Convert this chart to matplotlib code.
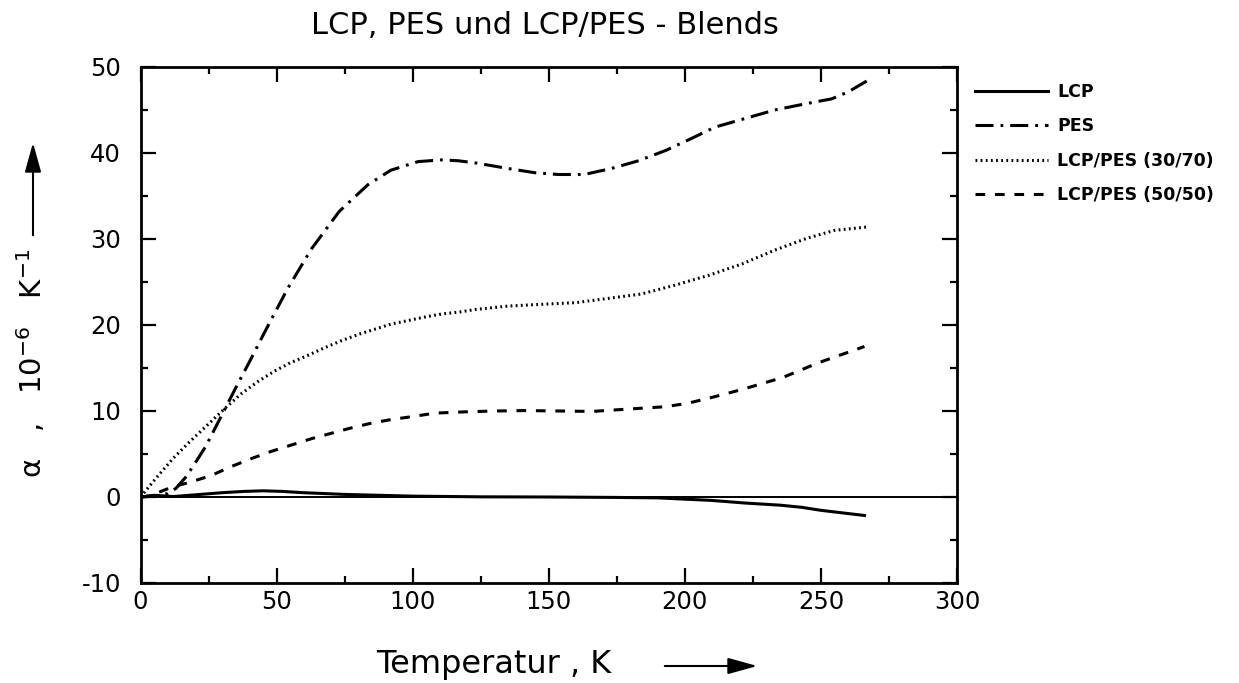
import matplotlib
matplotlib.use('Agg')
import matplotlib.pyplot as plt

# Data (temperature in K, alpha in 1e-6 / K)
lcp_T = [0, 5, 12, 20, 30, 38, 45, 52, 60, 75, 100, 125, 150, 175, 190, 200, 210, 222, 235, 243, 250, 258, 266]
lcp_a = [0, 0.2, 0.05, 0.25, 0.5, 0.65, 0.72, 0.65, 0.5, 0.3, 0.1, 0.02, 0, -0.05, -0.1, -0.25, -0.4, -0.7, -0.95, -1.2, -1.55, -1.85, -2.15]

pes_T = [0, 5, 10, 13, 16.6, 20, 24, 30, 35, 40, 46, 54, 62.7, 73, 83.5, 92, 102, 110.6, 116.7, 124, 135, 145, 153.6,
         163, 173, 183, 193, 202.5, 211, 222, 233, 244, 254, 260, 267]
pes_a = [0, 0.1, 0.4, 1.0, 2.3, 3.9, 5.9, 9.6, 12.7, 15.7, 19.4, 24.2, 28.8, 33.2, 36.3, 38.0, 39.0, 39.2, 39.1, 38.8, 38.2, 37.7, 37.5,
         37.5, 38.2, 39.1, 40.3, 41.7, 43.0, 44.0, 45.0, 45.7, 46.3, 47.1, 48.4]

b3070_T = [0, 6, 12, 18, 25, 31, 37, 43, 49, 55, 61, 68, 74, 80, 86, 92, 98, 104, 111, 117, 123, 135, 147,
           160, 172, 184, 196, 209, 221, 233, 245, 255, 267]
b3070_a = [0, 2.3, 4.5, 6.4, 8.5, 10.3, 12.0, 13.4, 14.6, 15.6, 16.4, 17.4, 18.2, 18.9, 19.5, 20.1, 20.5, 20.9, 21.3, 21.5, 21.8, 22.2, 22.4,
           22.6, 23.1, 23.6, 24.6, 25.8, 27.1, 28.7, 30.1, 31.0, 31.4]

b5050_T = [0, 3, 12, 18, 26, 33, 41, 48, 55, 63, 70, 77, 85, 92, 101, 108, 119, 130, 141, 154,
           166, 178, 193, 201, 209, 221, 236, 249, 266]
b5050_a = [0, 0.1, 1.2, 1.7, 2.5, 3.5, 4.5, 5.3, 6.0, 6.8, 7.4, 8.0, 8.6, 9.0, 9.4, 9.75, 9.9, 10.0, 10.05, 10.0,
           9.95, 10.2, 10.5, 10.9, 11.5, 12.5, 13.9, 15.6, 17.5]

labels = ['LCP', 'PES', 'LCP/PES (30/70)', 'LCP/PES (50/50)']

plt.rcParams['font.family'] = ['DejaVu Sans']
plt.rcParams['lines.scale_dashes'] = False
plt.rcParams['axes.unicode_minus'] = False

fig = plt.figure(figsize=(12.39, 6.83), dpi=100)
ax = fig.add_axes([140.5/1239, 1 - 583/683, (957 - 140.5)/1239, (583 - 67)/683])

ax.axhline(0, color='black', lw=1.4)
ax.plot(lcp_T, lcp_a, color='black', lw=2.2, ls='-', label=labels[0])
ax.plot(pes_T, pes_a, color='black', lw=2.2, ls=(0, (13, 5, 2, 5)), label=labels[1])
ax.plot(b3070_T, b3070_a, color='black', lw=2.2, ls=(0, (1.3, 2.4)), label=labels[2])
ax.plot(b5050_T, b5050_a, color='black', lw=2.2, ls=(0, (7, 7)), label=labels[3])

ax.set_xlim(0, 300)
ax.set_ylim(-10, 50)
ax.set_xticks(range(0, 301, 50))
ax.set_xticks(range(0, 301, 25), minor=True)
ax.set_yticks(range(-10, 51, 10))
ax.set_yticks(range(-10, 51, 5), minor=True)
ax.tick_params(which='both', direction='in', top=True, right=True, width=1.6)
ax.tick_params(which='major', length=10.5)
ax.tick_params(which='minor', length=5)
ax.tick_params(axis='x', labelsize=17.5, pad=5)
ax.tick_params(axis='y', labelsize=17.5, pad=14)
for s in ax.spines.values():
    s.set_linewidth(2)

leg = ax.legend(loc='upper left', bbox_to_anchor=(968/1239, 1 - 76/683), bbox_transform=fig.transFigure,
                frameon=False, handlelength=4.2, handletextpad=0.55, labelspacing=0.95,
                prop={'size': 12.5, 'weight': 'bold'}, borderaxespad=0)

# titles and axis labels (placed as in the scan)
fig.text(545/1239, 1 - 34/683, 'LCP, PES und LCP/PES - Blends', ha='center', va='baseline', fontsize=22)
fig.text(494/1239, 18/683, 'Temperatur , K', ha='center', va='center', fontsize=23)
ax.annotate('', xy=(760, 17), xytext=(662, 17), xycoords='figure pixels', textcoords='figure pixels',
            arrowprops=dict(arrowstyle='-|>,head_length=0.9,head_width=0.25', lw=1.5, color='black', mutation_scale=20))
fig.text(32/1239, 1 - 478/683, '\u03b1   ,   10$^{-6}$   K$^{-1}$', rotation=90, ha='center', va='bottom', fontsize=21)
ax.annotate('', xy=(33, 683 - 140), xytext=(33, 683 - 238), xycoords='figure pixels', textcoords='figure pixels',
            arrowprops=dict(arrowstyle='-|>,head_length=0.9,head_width=0.25', lw=1.5, color='black', mutation_scale=20))

plt.savefig('out.png', dpi=100)
